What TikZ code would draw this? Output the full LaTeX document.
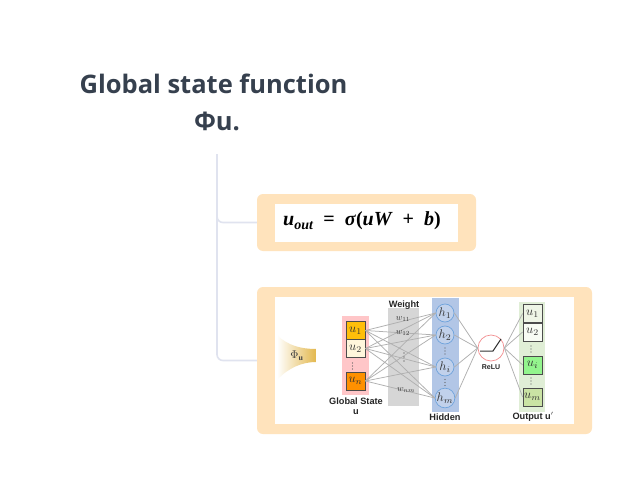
\documentclass[tikz,border=0pt]{standalone}
\usepackage{fontspec}
\setmainfont{Liberation Serif}
\setsansfont{Liberation Sans}
\newfontfamily\titlefont{Open Sans}
\usetikzlibrary{shadings}
\newcommand{\cellmath}[1]{\scalebox{1.25}{$#1$}}
\definecolor{titlecol}{HTML}{36404E}
\definecolor{trunkcol}{HTML}{E0E3EF}
\definecolor{panel}{HTML}{FFE3BC}
\definecolor{pinkbg}{HTML}{FFC6C8}
\definecolor{graybg}{HTML}{D6D6D6}
\definecolor{bluebg}{HTML}{B2C6E6}
\definecolor{greenbg}{HTML}{E0EED6}
\definecolor{edgecol}{HTML}{B0B0B0}
\definecolor{circlecol}{HTML}{6FA3DC}
\definecolor{goldcol}{HTML}{E3B84E}
\definecolor{uone}{HTML}{FFBE0A}
\definecolor{utwo}{HTML}{FFF6DC}
\definecolor{un}{HTML}{FF9000}
\definecolor{oone}{HTML}{EEF5E6}
\definecolor{otwo}{HTML}{F8FCF4}
\definecolor{oi}{HTML}{93F58D}
\definecolor{om}{HTML}{CAE3A4}
\definecolor{ringcol}{HTML}{F28E90}
\tikzset{
  x=1pt,y=-1pt,
  titletext/.style={font=\titlefont\bfseries\fontsize{25.5}{30}\selectfont,text=titlecol,inner sep=0},
  panelbox/.style={fill=panel,rounded corners=6pt,inner sep=0},
  whitebox/.style={fill=white,inner sep=0},
  bandbox/.style={inner sep=0},
  cell/.style={draw=black!70,line width=.8pt,minimum width=19pt,minimum height=18pt,inner sep=0,text=black!80},
  hnode/.style={circle,draw=circlecol,fill=bluebg!80!white,line width=.7pt,minimum size=18pt,inner sep=0,text=black!80},
  edgeline/.style={draw=edgecol,line width=.75pt},
  trunkline/.style={draw=trunkcol,line width=1.6pt,rounded corners=6pt},
  captext/.style={font=\sffamily\bfseries\fontsize{9.2}{10}\selectfont,inner sep=0,text=black!85},
  mathlab/.style={inner sep=0,scale=.9,transform shape,text=black!80}
}
\begin{document}
\begin{tikzpicture}
\useasboundingbox (0,0) rectangle (642,484);
\fill[white] (0,0) rectangle (642,484);
% title
\node[titletext] (t1) at (213.5,84) {Global state function};
\node[titletext] (t2) at (217,121) {Φu.};
% panels
\node[panelbox,minimum width=219pt,minimum height=57pt] (p1) at (366.5,222.5) {};
\node[panelbox,minimum width=335pt,minimum height=147pt] (p2) at (424.5,360.5) {};
\coordinate (tr) at (217,154);
\draw[trunkline] (tr) |- (p1.west);
\draw[trunkline] (tr) |- (p2.west);
\node[whitebox,minimum width=183pt,minimum height=38pt] (w1) at (366.5,223) {};
\node[whitebox,minimum width=299pt,minimum height=127pt] (w2) at (424.5,360.5) {};
% formula
\node[inner sep=0,font=\fontsize{20}{22}\selectfont\bfseries] (f) at (362,221)
  {\textit{u}\raisebox{-3.5pt}{\fontsize{14}{15}\selectfont\textit{out}}\ \ =\ \ \textit{σ}(\textit{uW}\ \ +\ \ \textit{b})};
% phi
\shade[left color=white,right color=goldcol] (277,335) .. controls (288,346) and (302,349) .. (316,349) -- (316,362) .. controls (302,362) and (288,368) .. (277,380) -- cycle;
\node[mathlab,scale=1.25,text=black!75] (phi) at (297,356) {$\Phi_{\mathbf{u}}$};
% bands
\node[bandbox,fill=pinkbg,minimum width=27pt,minimum height=79pt] (pink) at (355.5,355.5) {};
\node[bandbox,fill=graybg,minimum width=31pt,minimum height=98pt] (gray) at (403.5,357) {};
\node[bandbox,fill=bluebg,minimum width=27pt,minimum height=114pt] (blue) at (445.5,355) {};
\node[bandbox,fill=greenbg,minimum width=26pt,minimum height=110pt] (green) at (532,357) {};
% inputs
\node[cell,fill=uone] (u1) at (355.5,330.5) {\cellmath{u_1}};
\node[cell,fill=utwo] (u2) at (355.5,348.5) {\cellmath{u_2}};
\node[cell,fill=un] (un) at (355.5,381) {\cellmath{u_n}};
% hidden
\node[hnode] (h1) at (445,313) {\cellmath{h_1}};
\node[hnode] (h2) at (445,335) {\cellmath{h_2}};
\node[hnode] (hi) at (445,367) {\cellmath{h_i}};
\node[hnode] (hm) at (445,398) {\cellmath{h_m}};
% relu
\node[circle,draw=ringcol,fill=white,line width=.7pt,minimum size=26pt,inner sep=0] (relu) at (491,348) {};
% outputs
\node[cell,fill=oone] (o1) at (532.5,313.5) {\cellmath{u_1}};
\node[cell,fill=otwo] (o2) at (532.5,332) {\cellmath{u_2}};
\node[cell,fill=oi] (oi) at (532.5,365) {\cellmath{u_i}};
\node[cell,fill=om] (om) at (532.5,397) {\cellmath{u_m}};
% edges
\foreach \a in {u1,u2,un}{
  \foreach \b in {h1,h2,hi,hm}{
    \draw[edgeline] (\a.east) -- (\b.west);
  }
}
\foreach \b in {h1,h2,hi,hm}{ \draw[edgeline] (\b.east) -- (relu.west); }
\foreach \b in {o1,o2,oi,om}{ \draw[edgeline] (relu.east) -- (\b.west); }
% vertical dots
\foreach \px/\py in {352.5/366,445/351,445/382.5,531/349,531/381}{
  \foreach \d in {-3,0,3}{ \fill[black!65] (\px,\py+\d) circle[radius=.55pt]; }
}
\foreach \d in {-4,0,4}{ \fill[black!80] (404,357+\d) circle[radius=.7pt]; }
% relu glyph
\coordinate (ra) at (480,351);
\coordinate (rb) at (493,351);
\coordinate (rc) at (501,339);
\draw[black!80,line width=1pt] (ra) -- (rb) -- (rc);
% weight labels
\node[mathlab] (w11) at (403,319) {$w_{11}$};
\node[mathlab] (w12) at (403,333) {$w_{12}$};
\node[mathlab] (wnm) at (406,390) {$w_{nm}$};
% captions
\node[captext] (cw) at (404,305) {Weight};
\node[captext] (cg) at (356,401.5) {Global State};
\node[captext] (cu) at (356,412) {u};
\node[captext] (ch) at (445,417) {Hidden};
\node[captext] (co) at (533,417) {Output u$'$};
\node[captext,font=\sffamily\bfseries\fontsize{7}{8}\selectfont] (cr) at (491,367) {ReLU};
\end{tikzpicture}
\end{document}
